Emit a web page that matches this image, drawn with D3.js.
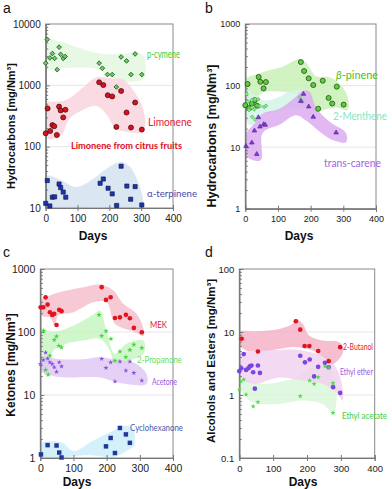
<html>
<head>
<script src="https://d3js.org/d3.v7.min.js"></script>
<style>
  body { margin: 0; background: #fff; }
  text { font-family: "Liberation Sans", Arial, sans-serif; }
</style>
</head>
<body>
<div id="chart"></div>
<script>
// ---- data: [days, mg/Nm3] ----
const dayTicks = [0, 100, 200, 300, 400];

// panel a
const pCymene = [[0,2300],[5,5600],[13,2800],[21,3300],[28,2750],[36,1800],[42,4200],[47,3200],[55,2750],[61,2950],
  [168,2300],[178,1900],[194,1500],[209,1500],[222,940],[237,2900],[254,2500],[268,1500],[281,3250],[302,1500]];
const limonene = [[0,165],[6,420],[14,180],[21,225],[27,215],[35,155],[42,450],[47,390],[55,300],[62,400],
  [168,1120],[181,1010],[195,690],[209,660],[222,210],[237,810],[254,360],[268,205],[281,525],[302,190]];
const aTerpinene = [[0,11.9],[5,28],[13,10.8],[21,15],[28,15.2],[42,24.6],[47,21.5],[55,18.2],[63,15],
  [171,25.3],[181,29.7],[196,21],[209,17],[223,11],[237,48],[255,22.8],[267,13.9],[281,22.3],[302,11.2]];
const pCymeneBand = [[0,5800],[30,5400],[60,5000],[90,4300],[130,3700],[170,3300],[210,3200],[250,3300],[280,3500],[308,3000],
  [308,1300],[280,1150],[250,1150],[220,1250],[190,1500],[165,1850],[130,1950],[90,1950],[50,1900],[20,1800],[0,1850]];
const limoneneBand = [[0,520],[30,540],[66,580],[118,930],[160,1350],[202,1300],[244,1230],[275,830],[307,400],
  [307,175],[254,175],[218,200],[192,330],[160,460],[118,400],[76,290],[45,145],[0,140]];
const aTerpineneBand = [[0,33],[45,29],[97,22],[150,30],[192,44],[234,56],[265,47],[296,22],[307,13],
  [307,10.2],[150,10.2],[0,10.2]];

// panel b
const betaPinene = [[0,48],[7,106],[12,43],[20,51],[29,58],[36,47],[41,138],[46,115],[56,90],[63,114],
  [170,241],[180,172],[194,131],[208,102],[223,42],[237,120],[255,63],[266,51],[280,96],[301,49]];
const menthene = [[4,73],[8,55],[11,40],[20,58],[21,44],[21,31],[27,41],[30,60],[30,28],[40,60],[45,46],[58,45],[63,47],[167,64],[174,55]];
const transCarene = [[2,10.4],[20,11.8],[28,18.5],[35,7.7],[40,30.5],[45,21.5],[56,23.4],[61,23],
  [170,56],[178,73],[194,45.5],[208,31],[278,17.2]];
const betaPineneBand = [[0,123],[43,158],[73,178],[114,203],[165,268],[186,235],[216,143],[257,136],[288,108],[313,66],
  [313,40],[278,44],[240,40],[215,38],[190,60],[145,76],[95,80],[55,78],[28,58],[0,40]];
const mentheneBand = [[0,85],[53,58],[94,62],[135,80],[176,87],[191,80],
  [191,45],[145,43],[94,38],[53,33],[38,23],[12,23],[0,35]];
const transCareneBand = [[0,16],[28,24],[53,35],[104,42],[155,66],[176,82],[196,80],[216,45],[257,26],[308,17],
  [308,12],[267,13],[227,18],[186,27],[155,33],[104,23],[53,17],[48,6.2],[22,6.2],[0,7.4]];

// panel c
const mek = [[1,246],[9,246],[16,355],[22,272],[29,206],[36,186],[42,194],[49,129],[57,225],[64,214],
  [185,515],[198,323],[212,356],[225,167],[240,171],[258,187],[270,165],[282,116],[306,99]];
const propanone = [[10,104],[16,25],[24,21],[29,42],[42,75],[49,85],[56,60],[64,57],
  [177,187],[185,87],[198,103],[213,78],[225,35],[240,49],[258,40],[270,52],[282,63],[306,56]];
const acetone = [[0,31],[9,36],[16,47],[22,38],[29,33],[36,31],[42,27.5],[49,23.4],[57,33],[64,28.4],
  [185,37.5],[198,27],[212,33],[225,16.4],[240,34],[258,24.5],[270,34],[282,22.4],[306,17]];
const cyclohexanone = [[2,1.14],[22,1.6],[49,1.58],[57,1.22],[64,1.02],[198,1.53],[212,2.08],[225,1.2],[240,3.0],[258,2.37],[270,1.74]];
const mekBand = [[1,315],[29,378],[79,454],[130,512],[180,565],[220,454],[250,280],[290,195],[311,112],
  [311,87],[280,102],[225,135],[200,296],[160,296],[100,206],[54,182],[44,124],[29,170],[1,182]];
const propanoneBand = [[0,112],[29,103],[59,105],[120,143],[160,190],[180,219],[200,100],[225,45],[260,65],[311,73],
  [311,45],[280,37],[225,31],[210,50],[180,78],[130,73],[79,65],[39,50],[19,20],[0,33]];
const acetoneBand = [[0,40],[59,37],[130,37],[180,40],[230,35.5],[280,33],[320,21.6],
  [320,15],[240,15.5],[180,19],[79,19],[39,20],[0,24.5]];
const cyclohexanoneBand = [[0,1.69],[29,1.84],[69,1.73],[99,1.29],[160,1.9],[210,2.57],[260,3.29],[280,2.92],[285,1.69],
  [280,1.49],[260,1.29],[220,1.03],[160,1.1],[99,1.07],[69,1.0],[0,1.0]];

// panel d
const butanol = [[7,7.8],[55,4.9],[167,14.8],[180,10.9],[193,6.0],[207,6.0],[233,5.0],[264,3.44],[298,5.75]];
const ethylEther = [[0,2.39],[6,2.66],[13,4.46],[20,2.5],[27,2.66],[31,2.86],[36,2.94],[41,2.3],[46,1.26],[55,2.94],[61,2.24],
  [180,4.2],[194,3.3],[208,3.66],[221,1.97],[233,2.8],[253,3.24],[264,2.76],[277,1.33],[298,1.08]];
const ethylAcetate = [[0,1.22],[5,1.64],[13,1.76],[20,1.02],[41,0.66],[55,0.77],
  [180,0.96],[208,1.7],[221,1.5],[233,1.92],[253,2.86],[264,2.73],[277,1.54],[277,0.52]];
const butanolBand = [[0,10],[49,10.3],[118,11.2],[158,13.5],[167,16.2],[187,13.5],[207,8.7],[246,7.3],[295,6.9],[305,5.9],
  [305,4.5],[276,3.1],[256,3.76],[217,5.1],[167,5.75],[98,5.2],[59,5.1],[20,5.1],[0,6.5]];
const ethylEtherBand = [[0,4.3],[49,5.1],[118,5.2],[177,5.2],[207,4.8],[266,3.76],[290,2.45],[305,1.33],
  [305,0.82],[286,1.11],[246,1.51],[187,1.7],[118,1.9],[39,1.51],[0,2.04]];
const ethylAcetateBand = [[0,1.82],[69,1.51],[167,1.9],[217,2.75],[266,2.7],[286,1.51],
  [286,0.72],[276,0.5],[246,0.72],[187,0.82],[118,0.72],[69,0.72],[30,0.82],[0,1.33]];

// ---- layout ----
const svg = d3.select("#chart").append("svg").attr("width", 392).attr("height", 489);
svg.append("rect").attr("width", 392).attr("height", 489).attr("fill", "#fff");

const panels = [
  { id: "a", left: 45.7, right: 173, top: 24, bottom: 208, yDomain: [10, 10000],
    letterX: 3, letterY: 13, ytitle: "Hydrocarbons [mg/Nm\u00b3]", ytitleX: 11, ytitleY: 126, ytitleSize: 11,
    daysX: 93, daysY: 240, tickSize: 10,
    bands: [[pCymeneBand, "#e3f7df"], [limoneneBand, "#f9d5df"], [aTerpineneBand, "#d4e3f1"]],
    series: [
      { data: pCymene, sym: d3.symbolSquare, size: 11, rot: 45, fill: "#5fd35a", stroke: "#1d3d1a" },
      { data: limonene, sym: d3.symbolCircle, size: 20, fill: "#d8111f", stroke: "#3a0a0a" },
      { data: aTerpinene, sym: d3.symbolSquare, size: 17, fill: "#1e35b0", stroke: "#101a50" }],
    labels: [
      { t: "p-cymene", x: 147, y: 58, c: "#3ccc35", w: 33, s: 10.5 },
      { t: "Limonene", x: 148, y: 126, c: "#e52038", w: 44, s: 11 },
      { t: "Limonene from citrus fruits", x: 71, y: 149, c: "#e0101c", w: 111, s: 9.5, b: true },
      { t: "\u03b1-terpinene", x: 147, y: 197, c: "#4a4aae", w: 50, s: 10 }] },
  { id: "b", left: 245.3, right: 376, top: 24, bottom: 208.7, yDomain: [1, 1000],
    letterX: 205, letterY: 13, ytitle: "Hydrocarbons [mg/Nm\u00b3]", ytitleX: 212, ytitleY: 136, ytitleSize: 12.5,
    daysX: 299, daysY: 240, tickSize: 9,
    bands: [[betaPineneBand, "#c9f0b6"], [mentheneBand, "#d3f5e8"], [transCareneBand, "#dcabf0"]],
    series: [
      { data: betaPinene, sym: d3.symbolCircle, size: 20, fill: "#5bcf3a", stroke: "#1c3a12" },
      { data: menthene, sym: d3.symbolSquare, size: 7, rot: 45, fill: "#8ae88a", stroke: "#5ab85a" },
      { data: transCarene, sym: d3.symbolTriangle, size: 9, fill: "#7b3fd0", stroke: "#5a2aa0" }],
    labels: [
      { t: "\u03b2-pinene", x: 336, y: 79, c: "#3fbf2a", w: 42, s: 11.5, greek: true },
      { t: "2-Menthene", x: 333, y: 120, c: "#86e6bf", w: 54, s: 11 },
      { t: "trans-carene", x: 324, y: 167, c: "#a463e4", w: 57, s: 10.5 }] },
  { id: "c", left: 40.3, right: 173, top: 269, bottom: 458, yDomain: [1, 1000],
    letterX: 3, letterY: 257, ytitle: "Ketones [mg/Nm\u00b3]", ytitleX: 11, ytitleY: 365, ytitleSize: 12,
    daysX: 77, daysY: 486, tickSize: 10.5,
    bands: [[mekBand, "#f6bfcd"], [propanoneBand, "#c8f5c2"], [acetoneBand, "#e0c8f5"], [cyclohexanoneBand, "#cdeefa"]],
    series: [
      { data: mek, sym: d3.symbolCircle, size: 17, fill: "#e2141e", stroke: "none" },
      { data: propanone, sym: d3.symbolStar, size: 9, fill: "#3ed83a", stroke: "none" },
      { data: acetone, sym: d3.symbolStar, size: 8, fill: "#8a4ee0", stroke: "none" },
      { data: cyclohexanone, sym: d3.symbolSquare, size: 20, fill: "#20379c", stroke: "none" }],
    labels: [
      { t: "MEK", x: 150, y: 328, c: "#e0202e", w: 17, s: 9 },
      { t: "2-Propanone", x: 137, y: 363, c: "#66dd66", w: 45, s: 9 },
      { t: "Acetone", x: 152, y: 385, c: "#9a58e0", w: 25, s: 9 },
      { t: "Cyclohexanone", x: 130, y: 431, c: "#4c5aa8", w: 53, s: 9 }] },
  { id: "d", left: 239.3, right: 374.7, top: 269, bottom: 458, yDomain: [0.1, 100],
    letterX: 205, letterY: 257, ytitle: "Alcohols and Esters [mg/Nm\u00b3]", ytitleX: 211, ytitleY: 361, ytitleSize: 11.5,
    daysX: 303, daysY: 486, tickSize: 9.5,
    bands: [[ethylAcetateBand, "#dbf7d9"], [ethylEtherBand, "#f1d2ef"], [butanolBand, "#f5b3c6"]],
    series: [
      { data: butanol, sym: d3.symbolCircle, size: 17, fill: "#e01420", stroke: "none" },
      { data: ethylEther, sym: d3.symbolCircle, size: 17, fill: "#7a45e0", stroke: "none" },
      { data: ethylAcetate, sym: d3.symbolStar, size: 8, fill: "#44dd44", stroke: "none" }],
    labels: [
      { t: "2-Butanol", x: 343, y: 350, c: "#e0202e", w: 30, s: 8.5 },
      { t: "Ethyl ether", x: 340, y: 375, c: "#9a58e0", w: 33, s: 8.5 },
      { t: "Ethyl acetate", x: 342, y: 419, c: "#44cc44", w: 45, s: 8.5 }] }
];

panels.forEach(function (p) {
  const x = d3.scaleLinear().domain([0, 400]).range([p.left, p.right]);
  const y = d3.scaleLog().domain(p.yDomain).range([p.bottom, p.top]);
  const g = svg.append("g");

  const decades = [];
  for (let v = p.yDomain[0]; v <= p.yDomain[1] * 1.001; v *= 10) decades.push(+v.toPrecision(3));
  const minor = [];
  decades.slice(0, -1).forEach(function (d) { for (let k = 2; k < 10; k++) minor.push(d * k); });

  g.append("clipPath").attr("id", "clip-" + p.id)
    .append("rect").attr("x", p.left).attr("y", p.top)
    .attr("width", p.right - p.left).attr("height", p.bottom - p.top);

  // faint decade grid
  g.selectAll(".grid").data(decades.slice(1, -1)).join("line")
    .attr("x1", p.left).attr("x2", p.right)
    .attr("y1", d => y(d)).attr("y2", d => y(d))
    .attr("stroke", "#e9e4ee").attr("stroke-width", 1);

  // shaded bands
  const line = d3.line().x(d => x(d[0])).y(d => y(d[1])).curve(d3.curveCatmullRomClosed.alpha(0.5));
  const bg = g.append("g").attr("clip-path", "url(#clip-" + p.id + ")");
  p.bands.forEach(function (b) {
    bg.append("path").attr("d", line(b[0])).attr("fill", b[1]).attr("fill-opacity", 0.85);
  });

  // frame
  g.append("rect").attr("x", p.left).attr("y", p.top)
    .attr("width", p.right - p.left).attr("height", p.bottom - p.top)
    .attr("fill", "none").attr("stroke", "#8a8a8a");

  // axes
  g.append("g").attr("transform", "translate(" + p.left + ",0)")
    .call(d3.axisLeft(y).tickValues(decades).tickSize(-4).tickPadding(5).tickFormat(d3.format("~g")));
  g.append("g").attr("transform", "translate(" + p.left + ",0)")
    .call(d3.axisLeft(y).tickValues(minor).tickSize(-2.5).tickFormat(""));
  g.append("g").attr("transform", "translate(0," + p.bottom + ")")
    .call(d3.axisBottom(x).tickValues(dayTicks).tickSize(3).tickPadding(4));
  g.append("g").attr("transform", "translate(0," + p.bottom + ")")
    .call(d3.axisBottom(x).tickValues(dayTicks).tickSize(-3).tickFormat(""));
  g.selectAll(".domain").attr("stroke", "#777");
  g.selectAll(".tick line").attr("stroke", "#777");
  g.selectAll(".tick text").attr("fill", "#222")
    .style("font-family", "'Liberation Sans', Arial, sans-serif").style("font-size", p.tickSize + "px");

  // points
  p.series.forEach(function (s) {
    g.selectAll(null).data(s.data).join("path")
      .attr("transform", d => "translate(" + x(d[0]) + "," + y(d[1]) + ") rotate(" + (s.rot || 0) + ")")
      .attr("d", d3.symbol().type(s.sym).size(s.size))
      .attr("fill", s.fill).attr("stroke", s.stroke).attr("stroke-width", 0.7);
  });

  // series labels
  p.labels.forEach(function (l) {
    const t = g.append("text").attr("x", l.x).attr("y", l.y)
      .attr("fill", l.c).style("font-family", "Lato, 'Open Sans', sans-serif")
      .style("font-size", l.s + "px").style("font-weight", l.b ? "bold" : "normal")
      .attr("textLength", l.w).attr("lengthAdjust", "spacingAndGlyphs");
    if (l.greek) {
      t.append("tspan").style("font-style", "italic").text(l.t.slice(0, 1));
      t.append("tspan").text(l.t.slice(1));
    } else t.text(l.t);
  });

  // titles
  g.append("text").attr("x", p.letterX).attr("y", p.letterY).text(p.id)
    .style("font-size", "14px").attr("fill", "#111");
  g.append("text").attr("transform", "translate(" + p.ytitleX + "," + p.ytitleY + ") rotate(-90)")
    .attr("text-anchor", "middle").attr("dy", "0.35em")
    .style("font-size", p.ytitleSize + "px").style("font-weight", "bold").attr("fill", "#111")
    .text(p.ytitle);
  g.append("text").attr("x", p.daysX).attr("y", p.daysY).attr("text-anchor", "middle")
    .style("font-size", "12px").style("font-weight", "bold").attr("fill", "#111").text("Days");
});
</script>
</body>
</html>
